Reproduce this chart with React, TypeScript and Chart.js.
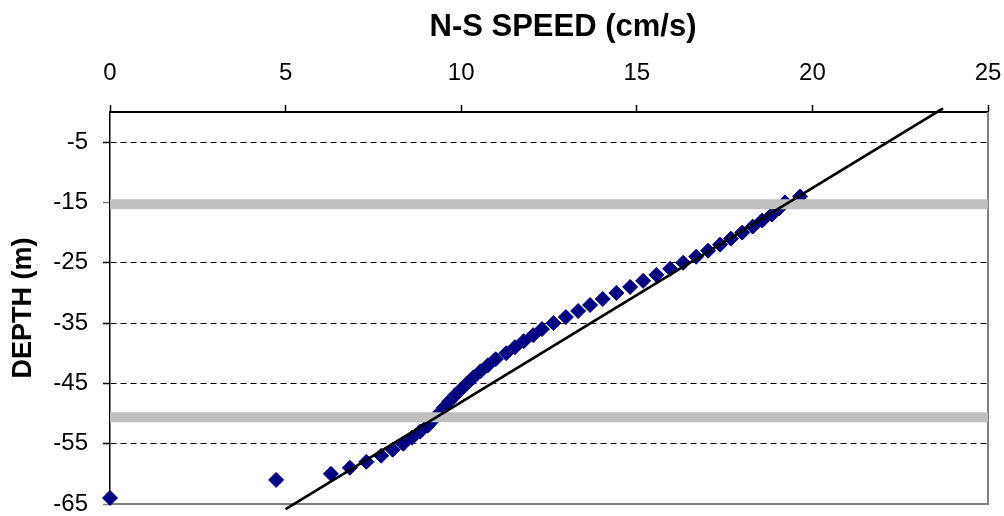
import React, { useEffect, useRef } from "react";
import { Chart, registerables } from "chart.js";

Chart.register(...registerables);

// Measured profile: depth (m) and N-S speed (cm/s)
const depths = [
  -64, -61, -60, -59, -58, -57, -56, -55, -54, -53, -52, -51, -50, -49, -48, -47,
  -46, -45, -44, -43, -42, -41, -40, -39, -38, -37, -36, -35, -34, -33, -32, -31,
  -30, -29, -28, -27, -26, -25, -24, -23, -22, -21, -20, -19, -18, -17, -16, -15, -14,
];
const speeds = [
  0.0, 4.73, 6.29, 6.83, 7.3, 7.72, 8.05, 8.35, 8.6, 8.83, 9.05, 9.21, 9.36, 9.51, 9.66, 9.82,
  9.99, 10.17, 10.35, 10.55, 10.76, 10.98, 11.28, 11.53, 11.78, 12.05, 12.3, 12.63, 12.98, 13.33, 13.67, 14.03,
  14.42, 14.81, 15.18, 15.56, 15.95, 16.32, 16.69, 17.03, 17.37, 17.68, 18.0, 18.3, 18.57, 18.85, 19.05, 19.22, 19.65,
];

// Linear trend line end points
const trendX = [5.0, 23.72];
const trendY = [-65.85, 0.6];

// Gray reference bands (depths)
const bandDepths = [-15.3, -50.6];
const bandX = [0, 25];

const xTicks = [0, 5, 10, 15, 20, 25];
const yTicks = [-65, -55, -45, -35, -25, -15, -5];

const FONT = "'Liberation Sans', Arial, Helvetica, sans-serif";

export default function App() {
  const ref = useRef<HTMLCanvasElement | null>(null);

  useEffect(() => {
    document.body.style.margin = "0";
    const canvas = ref.current;
    if (!canvas) return;

    const framePlugin = {
      id: "frame",
      beforeDatasetsDraw(chart: any) {
        const { ctx, chartArea: a } = chart;
        ctx.save();
        ctx.strokeStyle = "#808080";
        ctx.lineWidth = 2;
        ctx.beginPath();
        ctx.moveTo(a.left, a.bottom);
        ctx.lineTo(a.right, a.bottom);
        ctx.lineTo(a.right, a.top);
        ctx.stroke();
        ctx.restore();
      },
      afterDraw(chart: any) {
        const { ctx, chartArea: a } = chart;
        ctx.save();
        ctx.fillStyle = "#000";
        ctx.font = `bold 31px ${FONT}`;
        ctx.textAlign = "center";
        ctx.textBaseline = "middle";
        ctx.fillText("N-S SPEED (cm/s)", (a.left + a.right) / 2 + 14, 27);
        ctx.restore();
      },
    };

    const chart = new Chart(canvas, {
      type: "scatter",
      data: {
        datasets: [
          {
            label: "Speed",
            data: depths.map((d, i) => ({ x: speeds[i], y: d })),
            pointStyle: "rectRot",
            pointRadius: 7.5,
            pointHoverRadius: 7.5,
            backgroundColor: "#000080",
            borderColor: "#000080",
            borderWidth: 1,
            order: 3,
            clip: false,
          } as any,
          ...bandDepths.map(
            (b) =>
              ({
                type: "line",
                label: "band",
                data: bandX.map((x) => ({ x, y: b })),
                borderColor: "#C0C0C0",
                borderWidth: 10,
                pointRadius: 0,
                fill: false,
                tension: 0,
                order: 2,
              } as any)
          ),
          {
            type: "line",
            label: "Trend",
            data: trendX.map((x, i) => ({ x, y: trendY[i] })),
            borderColor: "#000000",
            borderWidth: 2.75,
            pointRadius: 0,
            fill: false,
            tension: 0,
            order: 1,
            clip: false,
          } as any,
        ],
      },
      options: {
        responsive: false,
        animation: false,
        events: [],
        layout: { padding: { left: 0, top: 0, right: 16, bottom: 12 } },
        plugins: {
          legend: { display: false },
          tooltip: { enabled: false },
          title: { display: false },
        },
        scales: {
          x: {
            type: "linear",
            position: "top",
            min: 0,
            max: 25,
            afterBuildTicks: (s: any) => {
              s.ticks = xTicks.map((v) => ({ value: v }));
            },
            ticks: {
              font: { family: FONT, size: 24 },
              color: "#000",
              padding: 17,
              maxRotation: 0,
              callback: (v: any) => String(v),
            },
            grid: {
              drawOnChartArea: false,
              drawTicks: true,
              tickLength: 7,
              tickColor: "#000",
              tickWidth: 1.5,
            },
            border: { display: true, color: "#000", width: 2 },
            afterFit: (s: any) => {
              s.height = 112;
              s.paddingLeft = 0;
              s.paddingRight = 0;
            },
          },
          y: {
            type: "linear",
            position: "left",
            min: -65,
            max: 0,
            afterBuildTicks: (s: any) => {
              s.ticks = yTicks.map((v) => ({ value: v }));
            },
            ticks: {
              font: { family: FONT, size: 24 },
              color: "#000",
              padding: 15,
              callback: (v: any) => String(v),
            },
            grid: {
              color: (c: any) => (c.tick && c.tick.value === -65 ? "rgba(0,0,0,0)" : "#000"),
              lineWidth: 1,
              tickLength: 7,
              tickColor: (c: any) =>
                c.tick && (c.tick.value === -65 || c.tick.value === -15) ? "#808080" : "#000",
              tickWidth: 1.5,
              tickBorderDash: [],
            },
            border: { display: true, color: "#000", width: 1.5, dash: [6, 4] },
            title: {
              display: true,
              text: "DEPTH (m)",
              color: "#000",
              font: { family: FONT, size: 27, weight: "bold" },
              padding: { top: 7, bottom: 0 },
            },
            afterFit: (s: any) => {
              s.width = 110;
              s.paddingTop = 0;
              s.paddingBottom = 0;
            },
          },
        },
      } as any,
      plugins: [framePlugin],
    });

    return () => chart.destroy();
  }, []);

  return (
    <div style={{ width: 1004, height: 516 }}>
      <canvas ref={ref} width={1004} height={516} style={{ display: "block" }} />
    </div>
  );
}
